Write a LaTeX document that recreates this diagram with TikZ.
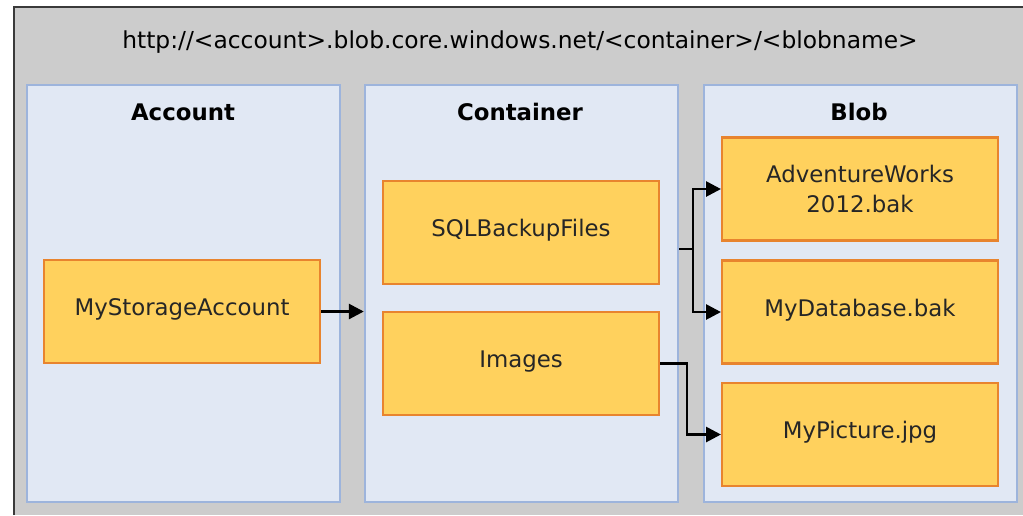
\documentclass[tikz,border=0pt]{standalone}
\usepackage{fontspec}
\setmainfont{DejaVu Sans}
\usetikzlibrary{arrows.meta}
\definecolor{backgray}{HTML}{CCCCCC}
\definecolor{framedark}{HTML}{3A3A3A}
\definecolor{panelfill}{HTML}{E1E8F4}
\definecolor{paneledge}{HTML}{9DB4DC}
\definecolor{itemfill}{HTML}{FFD15D}
\definecolor{itemedge}{HTML}{E8842E}

\begin{document}
\begin{tikzpicture}[x=0.02cm,y=-0.02cm,font=\fontsize{13}{17}\selectfont,
  panel/.style={rectangle,draw=paneledge,fill=panelfill,line width=1.4pt,minimum width=6.26cm,minimum height=8.34cm,inner sep=0pt},
  item/.style={rectangle,draw=itemedge,fill=itemfill,line width=1.2pt,minimum width=5.52cm,minimum height=2.06cm,align=center,text=black!85,text depth=5pt},
  heading/.style={font=\fontsize{13}{17}\selectfont\bfseries},
  arr/.style={line width=1.6pt,-{Triangle[length=8.5pt,width=8.5pt]}}]
\useasboundingbox (0,0) rectangle (1023,515);
%Background
\fill[backgray] (14,7) rectangle (1023,515);
\draw[framedark,line width=1.3pt] (14,515) -- (14,7) -- (1023,7);
\node at (520,42) [font=\fontsize{13.3}{17}\selectfont] (Url) {http://<account>.blob.core.windows.net/<container>/<blobname>};
%Panels
\node at (183.5,293.5) [panel] (Account) {};
\node at (521.5,293.5) [panel] (Container) {};
\node at (860.5,293.5) [panel] (Blob) {};
%Panel Labels
\node [heading] at (183,112) {Account};
\node [heading] at (520,112) {Container};
\node [heading] at (859,112) {Blob};
%Items
\node at (182,311.5) [item] (StorageAcct) {MyStorageAccount};
\node at (521,232.5) [item] (SQLBackup) {SQLBackupFiles};
\node at (521,363.5) [item] (Images) {Images};
\node at (860,189) [item,text depth=0pt] (AdvWorks) {AdventureWorks\\2012.bak};
\node at (860,312) [item] (MyDatabase) {MyDatabase.bak};
\node at (860,434.5) [item] (MyPicture) {MyPicture.jpg};
%connections
\coordinate (Split) at (693,249);
\coordinate (Bend) at (687,362);
\draw [arr] (StorageAcct.east) -- (StorageAcct.east -| Container.west);
\draw [line width=1.6pt] (Split -| Container.east) -- (Split);
\draw [arr] (Split) |- (AdvWorks.west);
\draw [arr] (Split) |- (MyDatabase.west);
\draw [arr] (Images.east) -- (Images.east -| Bend) |- (MyPicture.west);
\end{tikzpicture}
\end{document}
